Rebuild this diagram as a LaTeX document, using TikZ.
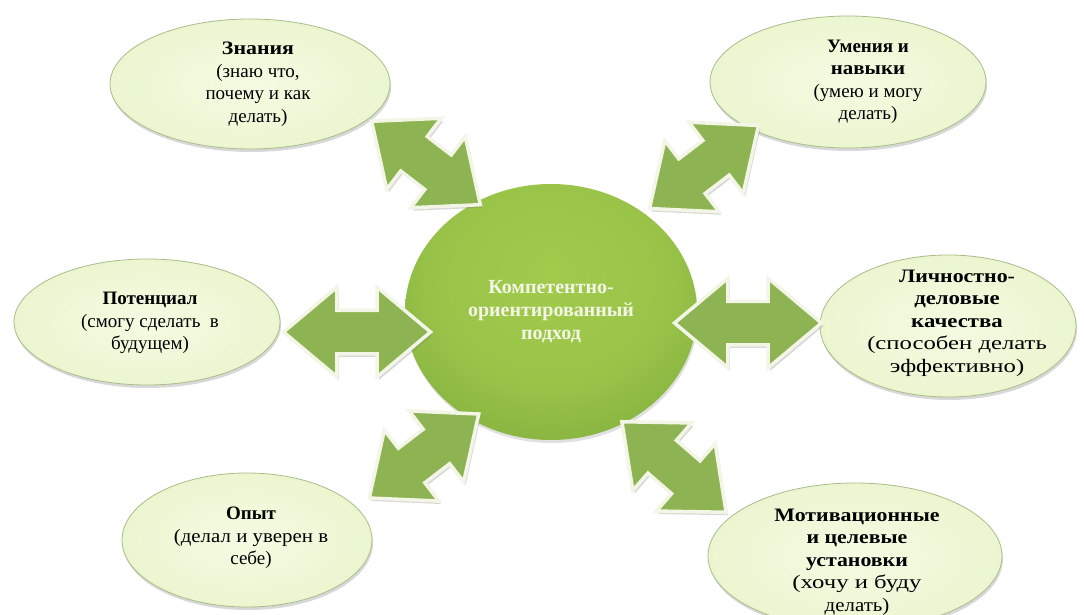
\documentclass[tikz,border=0pt]{standalone}
\usepackage{fontspec}
\setmainfont{Liberation Serif}
\usetikzlibrary{shapes.geometric,shapes.arrows,shadows}
\definecolor{cIn}{HTML}{A2CB4C}
\definecolor{cOut}{HTML}{6A9933}
\definecolor{eIn}{HTML}{F4FBE2}
\definecolor{eOut}{HTML}{D3E8A0}
\definecolor{arr}{HTML}{8DB352}
\definecolor{arrb}{HTML}{F3F6E6}
\definecolor{eBord}{HTML}{A9BD8A}
\definecolor{ctext}{HTML}{F3F6E6}
\pgfdeclareradialshading{centergrad}{\pgfpoint{0bp}{8bp}}{color(0bp)=(cIn); color(20bp)=(cIn!85!cOut); color(50bp)=(cOut); color(75bp)=(cOut)}
\pgfdeclareradialshading{ellgrad}{\pgfpoint{0bp}{0bp}}{color(0bp)=(eIn); color(28bp)=(eIn!70!eOut); color(50bp)=(eOut); color(75bp)=(eOut)}
\newcommand{\wl}[2]{\scalebox{#1}[1]{#2}}
\begin{document}
\begin{tikzpicture}[x=1pt,y=-1pt,
  ell/.style={ellipse, shade, shading=ellgrad, draw=eBord, line width=0.8pt, inner sep=0pt,
    drop shadow={shadow xshift=1pt, shadow yshift=-3pt, opacity=0.25, fill=black!60}},
  lbl/.style={align=center, inner sep=0pt, font=\fontsize{19}{22.5}\selectfont},
  dbl/.style={double arrow, double arrow head extend=23pt, double arrow tip angle=80,
    inner xsep=0pt, inner ysep=20pt, fill=arr, draw=arrb, line width=3.5pt,
    drop shadow={shadow xshift=2pt, shadow yshift=-3pt, opacity=0.3, fill=black!50}},
  hub/.style={ellipse, shade, shading=centergrad, inner sep=0pt, align=center,
    text=ctext, font=\bfseries\fontsize{20}{23}\selectfont,
    drop shadow={shadow xshift=1pt, shadow yshift=-3pt, opacity=0.2, fill=black!60}},
]
\useasboundingbox (0,0) rectangle (1084,615);
\clip (0,0) rectangle (1084,615);
\fill[white] (0,0) rectangle (1084,615);

\node[ell, minimum width=280pt, minimum height=130pt] (znan) at (250,84) {};
\node[lbl] (znanT) at (258,84)
  {\textbf{\wl{1.15}{Знания}}\\(знаю что,\\почему и как\\делать)};
\node[ell, minimum width=276pt, minimum height=132pt] (umen) at (848,82) {};
\node[lbl] (umenT) at (868,82)
  {\textbf{Умения и}\\\textbf{\wl{1.1}{навыки}}\\(умею и могу\\делать)};
\node[ell, minimum width=266pt, minimum height=126pt] (pot) at (147,322) {};
\node[lbl] (potT) at (150,323)
  {\textbf{Потенциал}\\(смогу сделать\ \ в\\будущем)};
\node[ell, minimum width=256pt, minimum height=142pt] (lich) at (948,326) {};
\node[lbl] (lichT) at (957,323)
  {\textbf{\wl{1.15}{Личностно-}}\\\textbf{\wl{1.2}{деловые}}\\\textbf{\wl{1.2}{качества}}\\\wl{1.3}{(способен делать}\\\wl{1.3}{эффективно)}};
\node[ell, minimum width=250pt, minimum height=134pt] (opyt) at (247,540) {};
\node[lbl] (opytT) at (251,538)
  {\textbf{Опыт}\\\wl{1.1}{(делал и\ уверен в}\\себе)};
\node[ell, minimum width=294pt, minimum height=146pt] (motiv) at (855,556) {};
\node[lbl] (motivT) at (857,562)
  {\textbf{\wl{1.15}{Мотивационные}}\\\textbf{\wl{1.15}{и целевые}}\\\textbf{\wl{1.15}{установки}}\\\wl{1.3}{(хочу и буду}\\\wl{1.1}{делать)}};

\node[hub, minimum width=292pt, minimum height=256pt] (hub) at (551,312)
  {Компетентно-\\ориентированный\\подход};

\node[dbl, minimum height=137pt, rotate=-37.5] (a1) at (426,163) {};
\node[dbl, minimum height=137pt, rotate=37.3] (a2) at (704,167) {};
\node[dbl, minimum height=147pt] (a3) at (357,332) {};
\node[dbl, minimum height=147pt] (a4) at (748,323) {};
\node[dbl, minimum height=138pt, rotate=37.5] (a5) at (424,456) {};
\node[dbl, minimum height=138pt, rotate=-41] (a6) at (674,467) {};
\end{tikzpicture}
\end{document}
